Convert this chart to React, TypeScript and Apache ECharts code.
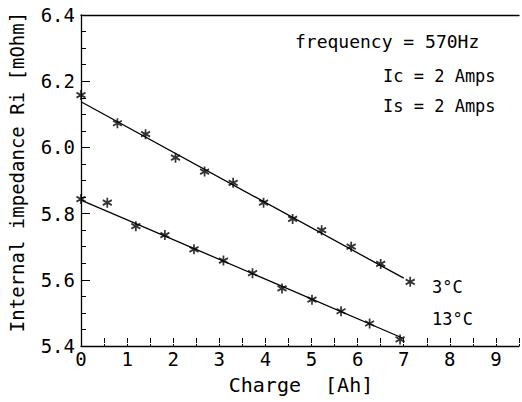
import React, { useEffect, useRef } from "react";
import * as echarts from "echarts";

// Upper series (3 °C)
const charge3 = [0, 0.79, 1.4, 2.05, 2.68, 3.3, 3.96, 4.59, 5.22, 5.86, 6.5, 7.14];
const ri3 = [6.158, 6.073, 6.04, 5.969, 5.927, 5.893, 5.833, 5.784, 5.75, 5.7, 5.648, 5.594];
// Lower series (13 °C)
const charge13 = [0, 0.57, 1.19, 1.82, 2.45, 3.09, 3.72, 4.36, 5.01, 5.64, 6.26, 6.92];
const ri13 = [5.844, 5.833, 5.762, 5.735, 5.692, 5.658, 5.62, 5.574, 5.54, 5.505, 5.468, 5.42];
// Fitted lines
const fit3X = [0, 7.0];
const fit3Y = [6.138, 5.605];
const fit13X = [0, 6.96];
const fit13Y = [5.841, 5.425];

const xMin = 0;
const xMax = 9.5;
const yMin = 5.4;
const yMax = 6.4;

const FONT = "DejaVu Sans Mono";
const STAR = "path://M0,-5L0,5M-4.33,-2.5L4.33,2.5M-4.33,2.5L4.33,-2.5";

const zip = (a: number[], b: number[]) => a.map((v, i) => [v, b[i]]);

export default function App() {
  const ref = useRef<HTMLDivElement>(null);
  useEffect(() => {
    document.body.style.margin = "0";
    const chart = echarts.init(ref.current!, undefined, { renderer: "svg" });
    const starStyle = {
      color: "transparent",
      borderColor: "#000",
      borderWidth: 1.8,
    };
    chart.setOption({
      animation: false,
      backgroundColor: "#fff",
      grid: { left: 81, top: 15, right: -4, bottom: 56 },
      xAxis: [
        {
          type: "value",
          min: xMin,
          max: xMax,
          interval: 0.5,
          axisLine: { lineStyle: { color: "#000", width: 1.3 } },
          axisTick: {
            inside: true,
            length: 8,
            lineStyle: { color: "#000", width: 1, type: [2, 1, 5] },
          },
          axisLabel: {
            margin: 3,
            color: "#000",
            fontFamily: FONT,
            fontSize: 19,
            formatter: (v: number) =>
              Number.isInteger(v) && v < 9.5 ? String(v) : "",
          },
          splitLine: { show: false },
        },
        {
          type: "value",
          position: "top",
          min: xMin,
          max: xMax,
          interval: 0.5,
          axisLine: { show: true, lineStyle: { color: "#000", width: 1.3 } },
          axisTick: { show: false },
          axisLabel: { show: false },
          splitLine: { show: false },
        },
      ],
      yAxis: {
        type: "value",
        min: yMin,
        max: yMax,
        interval: 0.2,
        axisLine: { show: true, lineStyle: { color: "#000", width: 1.3 } },
        axisTick: { inside: true, length: 9, lineStyle: { color: "#000", width: 1 } },
        minorTick: {
          show: true,
          splitNumber: 4,
          length: 5,
          lineStyle: { color: "#000", width: 1 },
        },
        axisLabel: {
          margin: 6,
          color: "#000",
          fontFamily: FONT,
          fontSize: 19,
          formatter: (v: number) => v.toFixed(1),
        },
        splitLine: { show: false },
      },
      series: [
        {
          type: "line",
          data: zip(fit3X, fit3Y),
          showSymbol: false,
          lineStyle: { color: "#000", width: 1.3 },
          z: 2,
        },
        {
          type: "line",
          data: zip(fit13X, fit13Y),
          showSymbol: false,
          lineStyle: { color: "#000", width: 1.3 },
          z: 2,
        },
        {
          type: "scatter",
          data: zip(charge3, ri3),
          symbol: STAR,
          symbolSize: [9, 10],
          itemStyle: starStyle,
          z: 3,
        },
        {
          type: "scatter",
          data: zip(charge13, ri13),
          symbol: STAR,
          symbolSize: [9, 10],
          itemStyle: starStyle,
          z: 3,
        },
      ],
      graphic: [
        {
          type: "text",
          x: 295,
          y: 41,
          style: {
            text: "frequency = 570Hz",
            font: `18px "${FONT}"`,
            fill: "#000",
            textAlign: "left",
            textVerticalAlign: "middle",
          },
        },
        {
          type: "text",
          x: 383,
          y: 76,
          style: {
            text: "Ic = 2 Amps",
            font: `17px "${FONT}"`,
            fill: "#000",
            textAlign: "left",
            textVerticalAlign: "middle",
          },
        },
        {
          type: "text",
          x: 383,
          y: 106,
          style: {
            text: "Is = 2 Amps",
            font: `17px "${FONT}"`,
            fill: "#000",
            textAlign: "left",
            textVerticalAlign: "middle",
          },
        },
        {
          type: "text",
          x: 432,
          y: 287,
          style: {
            text: "3°C",
            font: `17px "${FONT}"`,
            fill: "#000",
            textAlign: "left",
            textVerticalAlign: "middle",
          },
        },
        {
          type: "text",
          x: 432,
          y: 319,
          style: {
            text: "13°C",
            font: `17px "${FONT}"`,
            fill: "#000",
            textAlign: "left",
            textVerticalAlign: "middle",
          },
        },
        {
          type: "text",
          x: 17,
          y: 172,
          rotation: Math.PI / 2,
          style: {
            text: "Internal impedance Ri [mOhm]",
            font: `19px "${FONT}"`,
            fill: "#000",
            textAlign: "center",
            textVerticalAlign: "middle",
          },
        },
        {
          type: "text",
          x: 301,
          y: 385,
          style: {
            text: "Charge  [Ah]",
            font: `20px "${FONT}"`,
            fill: "#000",
            textAlign: "center",
            textVerticalAlign: "middle",
          },
        },
      ],
    });
    return () => chart.dispose();
  }, []);
  return <div ref={ref} style={{ width: 522, height: 402 }} />;
}
